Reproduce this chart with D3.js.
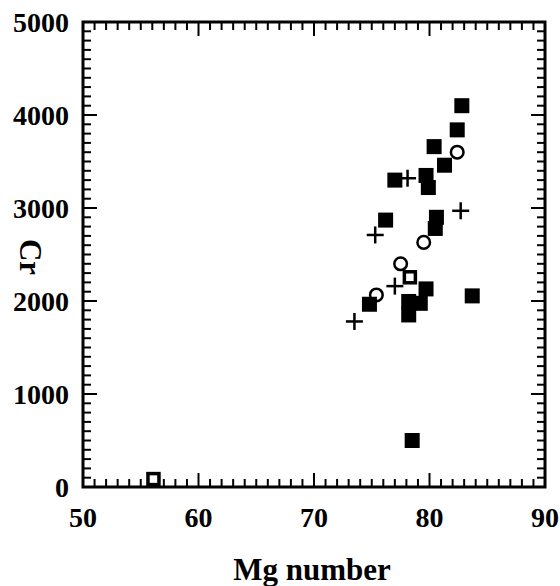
<!DOCTYPE html>
<html>
<head>
  <meta charset="utf-8" />
  <script src="https://d3js.org/d3.v7.min.js"></script>
  <style>
    body, html { margin: 0; background: white; }
    text { font-family: "Liberation Serif", "Times New Roman", serif; font-weight: bold; fill: black; }
  </style>
</head>
<body>
  <svg id="chart" width="560" height="586"></svg>
  <script>
    // data: [Mg number, Cr]
    var filledSquares = [
      [82.8, 4100], [82.4, 3840], [80.4, 3660], [81.3, 3460], [77.0, 3300],
      [79.7, 3350], [79.9, 3220], [76.2, 2870], [80.6, 2900], [80.5, 2780],
      [79.7, 2130], [74.8, 1965], [83.7, 2055], [78.2, 1995], [79.2, 1975],
      [78.2, 1850], [78.5, 500]
    ];
    var openSquares = [[78.3, 2255], [56.1, 85]];
    var openCircles = [[82.4, 3600], [79.5, 2630], [77.5, 2400], [75.4, 2065]];
    var crosses = [[78.1, 3320], [82.7, 2970], [75.3, 2710], [77.0, 2160], [73.5, 1780]];
    var xTicks = [50, 60, 70, 80, 90];
    var yTicks = [0, 1000, 2000, 3000, 4000, 5000];

    var svg = d3.select("#chart");
    var pLeft = 83, pRight = 545, pTop = 22, pBottom = 487;

    var x = d3.scaleLinear().domain([50, 90]).range([pLeft, pRight]);
    var y = d3.scaleLinear().domain([0, 5000]).range([pBottom, pTop]);

    // ticks on all four sides, pointing in
    var ax = svg.append("g").attr("stroke", "black").attr("stroke-width", 2);
    d3.range(50, 91, 1).forEach(function (v) {
      var len = v % 10 === 0 ? 14 : 8;
      ax.append("line").attr("x1", x(v)).attr("x2", x(v)).attr("y1", pBottom).attr("y2", pBottom - len);
      ax.append("line").attr("x1", x(v)).attr("x2", x(v)).attr("y1", pTop).attr("y2", pTop + len);
    });
    d3.range(0, 5001, 100).forEach(function (v) {
      var len = v % 1000 === 0 ? 14 : 8;
      ax.append("line").attr("y1", y(v)).attr("y2", y(v)).attr("x1", pLeft).attr("x2", pLeft + len);
      ax.append("line").attr("y1", y(v)).attr("y2", y(v)).attr("x1", pRight).attr("x2", pRight - len);
    });

    svg.append("rect")
      .attr("x", pLeft).attr("y", pTop)
      .attr("width", pRight - pLeft).attr("height", pBottom - pTop)
      .attr("fill", "none").attr("stroke", "black").attr("stroke-width", 3);

    svg.selectAll(".xl").data(xTicks).enter().append("text")
      .attr("x", function (d) { return x(d); })
      .attr("y", 527)
      .attr("text-anchor", "middle")
      .attr("font-size", 28)
      .text(function (d) { return d; });

    svg.selectAll(".yl").data(yTicks).enter().append("text")
      .attr("x", 69)
      .attr("y", function (d) { return y(d) + 10; })
      .attr("text-anchor", "end")
      .attr("font-size", 28)
      .text(function (d) { return d; });

    svg.append("text")
      .attr("x", 312).attr("y", 580)
      .attr("text-anchor", "middle")
      .attr("font-size", 31)
      .text("Mg number");

    svg.append("text")
      .attr("transform", "translate(20,257) rotate(90)")
      .attr("text-anchor", "middle")
      .attr("font-size", 31)
      .text("Cr");

    // markers
    var s = 15;
    svg.selectAll(".fs").data(filledSquares).enter().append("rect")
      .attr("x", function (d) { return x(d[0]) - s / 2; })
      .attr("y", function (d) { return y(d[1]) - s / 2; })
      .attr("width", s).attr("height", s)
      .attr("fill", "black");

    svg.selectAll(".os").data(openSquares).enter().append("rect")
      .attr("x", function (d) { return x(d[0]) - 5.5; })
      .attr("y", function (d) { return y(d[1]) - 5.5; })
      .attr("width", 11).attr("height", 11)
      .attr("fill", "white").attr("stroke", "black").attr("stroke-width", 3.5);

    svg.selectAll(".oc").data(openCircles).enter().append("circle")
      .attr("cx", function (d) { return x(d[0]); })
      .attr("cy", function (d) { return y(d[1]); })
      .attr("r", 6.3)
      .attr("fill", "none").attr("stroke", "black").attr("stroke-width", 2.5);

    var cross = svg.selectAll(".cr").data(crosses).enter().append("g")
      .attr("transform", function (d) { return "translate(" + x(d[0]) + "," + y(d[1]) + ")"; })
      .attr("stroke", "black").attr("stroke-width", 2.5);
    cross.append("line").attr("x1", -8.5).attr("x2", 8.5);
    cross.append("line").attr("y1", -8.5).attr("y2", 8.5);
  </script>
</body>
</html>
